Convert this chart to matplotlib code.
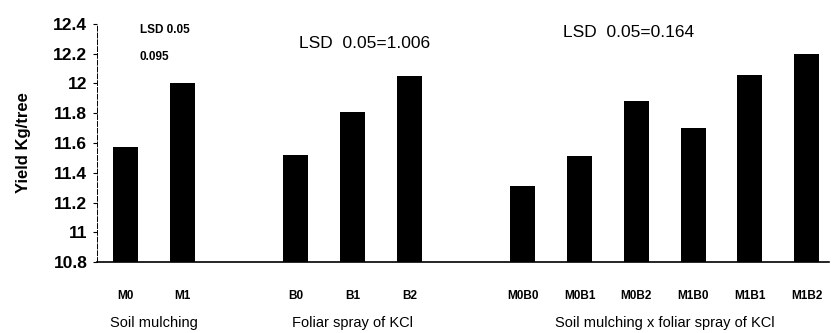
import numpy as np
import matplotlib.pyplot as plt
from matplotlib.ticker import FuncFormatter

plt.rcParams['font.family'] = ['Liberation Sans', 'DejaVu Sans']

# bar labels and yields (Kg/tree)
mulch_labels = ['M0', 'M1']
mulch_vals = [11.57, 12.0]
spray_labels = ['B0', 'B1', 'B2']
spray_vals = [11.52, 11.81, 12.05]
inter_labels = ['M0B0', 'M0B1', 'M0B2', 'M1B0', 'M1B1', 'M1B2']
inter_vals = [11.31, 11.51, 11.88, 11.70, 12.06, 12.20]

group_names = ['Soil mulching', 'Foliar spray of KCl',
               'Soil mulching x foliar spray of KCl']

# positions: groups separated by one empty slot
x_mulch = np.arange(len(mulch_labels))
x_spray = np.arange(len(spray_labels)) + 3
x_inter = np.arange(len(inter_labels)) + 7

labels = mulch_labels + spray_labels + inter_labels
xs = np.concatenate([x_mulch, x_spray, x_inter])
vals = mulch_vals + spray_vals + inter_vals

fig = plt.figure(figsize=(8.38, 3.33), dpi=100)
ax = fig.add_axes([0.1158, 0.213, 0.874, 0.715])

base = 10.8
ax.bar(xs, np.array(vals) - base, bottom=base, width=0.44, color='black')

ax.set_xlim(-0.5, 12.4)
ax.set_ylim(10.8, 12.4)
ax.set_yticks(np.arange(10.8, 12.41, 0.2))
ax.yaxis.set_major_formatter(FuncFormatter(lambda v, p: f'{v:g}'))
ax.tick_params(axis='y', direction='out', length=3, width=0.8, pad=4,
               labelsize=12.5)
for t in ax.get_yticklabels():
    t.set_fontweight('bold')

ax.set_xticks(xs)
ax.set_xticklabels(labels, fontsize=8.5, fontweight='bold')
ax.tick_params(axis='x', length=0, pad=20)

ax.spines['top'].set_visible(False)
ax.spines['right'].set_visible(False)
ax.spines['left'].set_linewidth(0.7)
ax.spines['left'].set_linestyle((0, (5, 2)))
ax.spines['bottom'].set_linewidth(1.2)

ax.set_ylabel('Yield Kg/tree', fontsize=12, fontweight='bold', labelpad=16)

# group titles under the tick labels
for grp, name in zip([x_mulch, x_spray, x_inter], group_names):
    ax.annotate(name, xy=(grp.mean(), 0), xycoords=('data', 'axes fraction'),
                xytext=(0, -44), textcoords='offset points',
                ha='center', va='center', fontsize=10.5)

# LSD notes
ax.text(0.25, 12.36, 'LSD 0.05', fontsize=8.5, fontweight='bold', va='center')
ax.text(0.25, 12.18, '0.095', fontsize=8.5, fontweight='bold', va='center')
ax.text(3.05, 12.27, 'LSD  0.05=1.006', fontsize=12.5, va='center')
ax.text(7.7, 12.34, 'LSD  0.05=0.164', fontsize=12.5, va='center')

fig.savefig('out.png', dpi=100)
